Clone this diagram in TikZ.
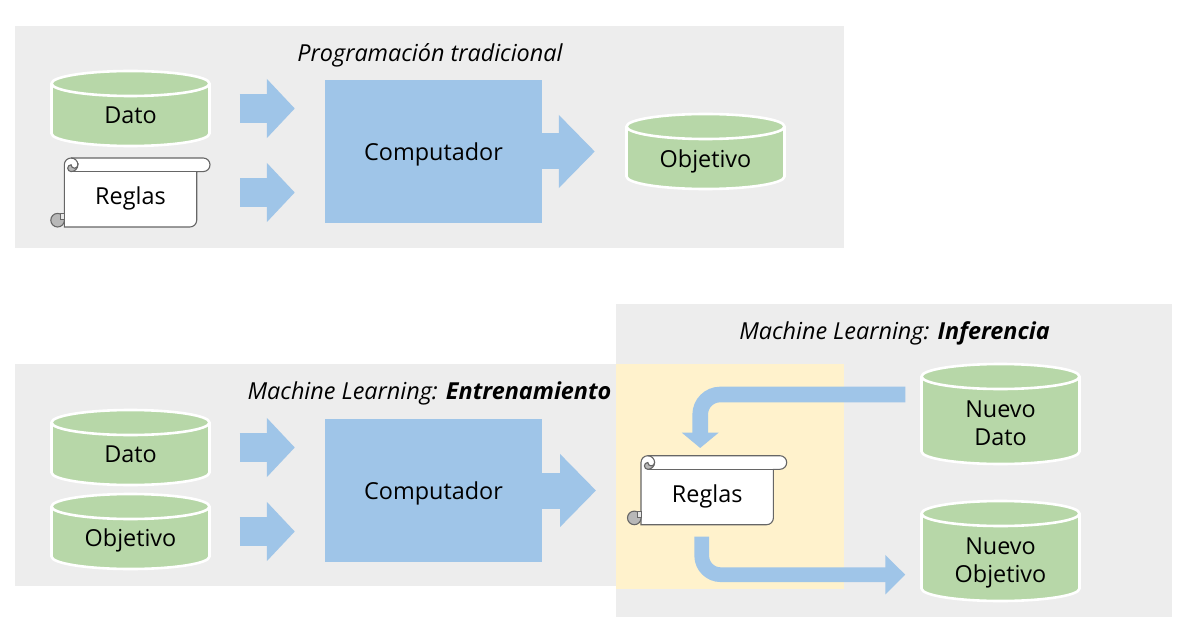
\documentclass[tikz,border=0pt]{standalone}
\usepackage{fontspec}
\setmainfont{Open Sans}
\usetikzlibrary{arrows.meta,calc}
\definecolor{panelgray}{HTML}{EDEDED}
\definecolor{paleyellow}{HTML}{FFF2CC}
\definecolor{dbgreen}{HTML}{B7D7A8}
\definecolor{blockblue}{HTML}{9FC5E8}
\definecolor{scrollline}{HTML}{666666}
\definecolor{curlgray}{HTML}{B8B8B8}
\newcommand{\bs}{\rule[-5.5pt]{0pt}{22pt}}
\tikzset{
  panel/.style={fill=panelgray,draw=none},
  titletext/.style={font=\fontsize{23.4}{28}\selectfont\itshape,inner sep=0pt},
  bodytext/.style={font=\fontsize{23.4}{28}\selectfont,align=center,inner sep=0pt},
  smallblock/.style={draw=blockblue,line width=29pt,-{Triangle[width=57.7pt,length=28pt]},shorten <=30pt,shorten >=30pt},
  bigblock/.style={draw=blockblue,line width=36pt,-{Triangle[width=71pt,length=36pt]},shorten >=31.5pt},
  bendin/.style={draw=blockblue,line width=15.6pt,rounded corners=20pt,-{Triangle[width=36pt,length=15.3pt]},shorten >=7.5pt},
  bendout/.style={draw=blockblue,line width=14.7pt,rounded corners=19pt,-{Triangle[width=38.3pt,length=20pt]},shorten >=16pt},
  scrollpath/.style={draw=scrollline,line width=1.1pt},
  compbox/.style={fill=blockblue,minimum width=217pt,minimum height=143pt,inner sep=0pt}
}
% name, centre x, centre y, height, text shift, text
\newcommand{\dbnode}[6]{%
  \fill[dbgreen,draw=white,line width=2.6pt]
    ({#2-79},{#3-#4/2+12.5}) arc[start angle=180,end angle=0,x radius=79,y radius=-12.5]
    -- ({#2+79},{#3+#4/2-12.5}) arc[start angle=0,end angle=-180,x radius=79,y radius=-12.5] -- cycle;
  \draw[white,line width=2.6pt]
    ({#2-79},{#3-#4/2+12.5}) arc[start angle=180,end angle=360,x radius=79,y radius=-12.5];
  \node[minimum width=158pt,minimum height=#4 pt,inner sep=0pt,label={[bodytext,yshift=#5pt]center:#6}] (#1) at (#2,#3) {};%
}
% name, left x, top y, text  (local coordinates grow rightwards and downwards)
\newcommand{\scrollnode}[4]{%
  \begin{scope}[shift={(#2,#3)}]
    \filldraw[fill=white,scrollpath]
      (13.3,6.8) arc[start angle=180,end angle=270,radius=6.8]
      -- (152.2,0) arc[start angle=270,end angle=450,radius=6.8]
      -- (145.7,13.6) -- (145.7,62.2) arc[start angle=0,end angle=90,radius=6.8]
      -- (13.3,69) -- cycle;
    \draw[scrollline,line width=1.1pt] (20.1,13.6) -- (145.7,13.6);
    \filldraw[fill=curlgray,scrollpath] (6.6,62.2) circle[radius=6.8];
    \filldraw[fill=curlgray!35,draw=scrollline,line width=0.7pt] (9.2,55.8) -- (13.3,55.8) -- (13.3,61.6) -- (9.2,61.6) -- cycle;
    \draw[scrollline,line width=1.1pt] (20.1,0) arc[start angle=270,end angle=360,radius=6.8];
    \filldraw[fill=curlgray,scrollpath] (26.9,6.8) arc[start angle=0,end angle=90,radius=6.8]
      arc[start angle=90,end angle=270,radius=3.4]
      arc[start angle=180,end angle=0,radius=3.4] -- cycle;
    \node[minimum width=159pt,minimum height=69pt,inner sep=0pt,label={[bodytext,yshift=-6pt]center:\bs #4}] (#1) at (79.5,34.5) {};
  \end{scope}%
}
\begin{document}
\begin{tikzpicture}[x=1pt,y=-1pt]
\useasboundingbox (0,0) rectangle (1188,639);
\fill[white] (0,0) rectangle (1188,639);
% panels
\fill[panel] (15,26) rectangle (844.2,248);
\fill[panel] (15,364) rectangle (616,586);
\fill[panel] (616,303.5) rectangle (1172,616.5);
\fill[paleyellow] (616,364) rectangle (844.2,589);
% titles
\node[titletext] (t1) at (430,55) {Programación tradicional};
\node[titletext] (t2) at (429.5,393) {Machine Learning: \textbf{Entrenamiento}};
\node[titletext] (t3) at (894.5,333) {Machine Learning: \textbf{Inferencia}};
% top row
\dbnode{dato}{130.5}{108.5}{75}{-9.8}{\bs Dato}
\scrollnode{reglas}{51}{158}{Reglas}
\node[compbox,label={[bodytext,yshift=-3pt]center:\bs Computador}] (comp) at (433.5,151.5) {};
\dbnode{obj}{705.5}{151.5}{75}{-9.8}{\bs Objetivo}
\draw[smallblock] (dato.east) -- (dato.east -| comp.west);
\draw[smallblock] (reglas.east) -- (reglas.east -| comp.west);
\draw[bigblock] (comp.east) -- (obj.west);
% training row
\dbnode{dato2}{130.5}{447.5}{75}{-9.3}{\bs Dato}
\dbnode{obj2}{130.5}{531.5}{75}{-9.3}{\bs Objetivo}
\node[compbox,label={[bodytext,yshift=-3pt]center:\bs Computador}] (comp2) at (433.5,490.5) {};
\draw[smallblock] (dato2.east) -- (dato2.east -| comp2.west);
\draw[smallblock] (obj2.east) -- (obj2.east -| comp2.west);
\scrollnode{reglas2}{627.7}{455.7}{Reglas}
\draw[bigblock] (comp2.east) -- (comp2.east -| reglas2.west);
% inference
\dbnode{nd}{1000.5}{414}{100}{-11.5}{\bs Nuevo\\\bs Dato}
\dbnode{no}{1000.5}{551}{100}{-11.5}{\bs Nuevo\\\bs Objetivo}
\coordinate (inStart) at ($(nd.west)+(-16,-19.5)$);
\coordinate (inEnd) at ($(reglas2.north)+(-7,0)$);
\coordinate (outStart) at ($(reglas2.south)+(-5.5,11.6)$);
\coordinate (outEnd) at ($(no.west)+(0,23.7)$);
\draw[bendin] (inStart) -| (inEnd);
\draw[bendout] (outStart) |- (outEnd);
\end{tikzpicture}
\end{document}
